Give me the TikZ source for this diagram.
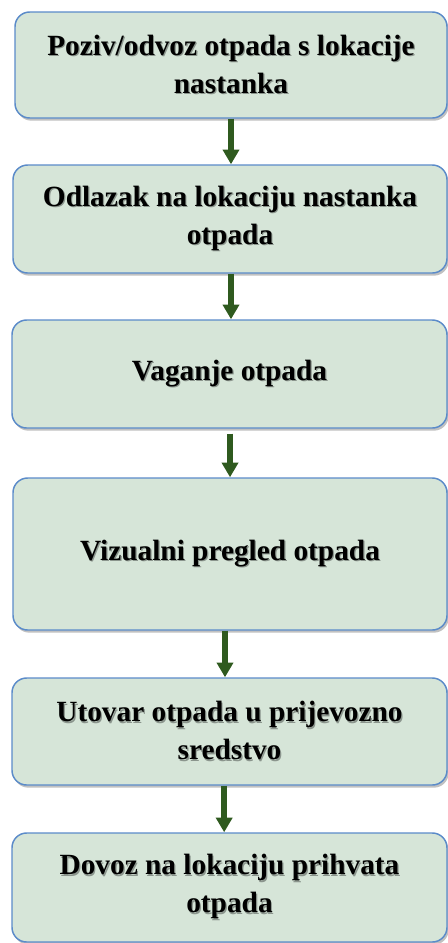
\documentclass[tikz,border=0pt]{standalone}
\usepackage{fontspec}
\setmainfont{Liberation Serif}
\usetikzlibrary{arrows.meta,shadows}
\definecolor{boxfill}{HTML}{D6E5D8}
\definecolor{boxline}{HTML}{5B8BC9}
\definecolor{arrowcol}{HTML}{2F5A1F}
\newcommand{\shline}[1]{\leavevmode\rlap{\raisebox{-0.9pt}{\kern0.9pt\textcolor{boxfill!65!black}{#1}}}#1}
\tikzset{
  stepbox/.style={draw=boxline, line width=1.1pt, fill=boxfill, rounded corners=11pt,
    align=center, inner sep=0pt,
    font=\fontsize{22}{28.5}\selectfont\bfseries,
    drop shadow={shadow xshift=1.2pt, shadow yshift=-2pt, opacity=0.35, fill=black!70}},
  flowarrow/.style={draw=arrowcol, line width=4.5pt, -{Triangle[width=12pt,length=11pt]}}
}
\begin{document}
\begin{tikzpicture}[x=0.75pt,y=-0.75pt]
\useasboundingbox (0,0) rectangle (448,943);
\node[stepbox, minimum width=324pt, minimum height=79.5pt] (b1) at (231,65)
  {\shline{Poziv/odvoz otpada s lokacije}\\\shline{nastanka}};
\node[stepbox, minimum width=325.5pt, minimum height=81pt] (b2) at (230,219)
  {\shline{Odlazak na lokaciju nastanka}\\\shline{otpada}};
\node[stepbox, minimum width=326.25pt, minimum height=81pt] (b3) at (229.5,374)
  {\shline{Vaganje otpada}};
\node[stepbox, minimum width=325.5pt, minimum height=114pt] (b4) at (230,554)
  {\shline{Vizualni pregled otpada}};
\node[stepbox, minimum width=326.25pt, minimum height=80.25pt] (b5) at (229.5,731.5)
  {\shline{Utovar otpada u prijevozno}\\\shline{sredstvo}};
\node[stepbox, minimum width=326.25pt, minimum height=81.75pt] (b6) at (229.5,887.5)
  {\shline{Dovoz na lokaciju prihvata}\\\shline{otpada}};
\draw[flowarrow] (b1.south) -- (b1.south |- b2.north);
\draw[flowarrow] ([xshift=0.75pt]b2.south) -- ([xshift=0.75pt]b2.south |- b3.north);
\draw[flowarrow] ([xshift=0.4pt,yshift=-3.75pt]b3.south) -- ([xshift=0.4pt]b3.south |- b4.north);
\draw[flowarrow] ([xshift=-3.75pt]b4.south) -- ([xshift=-3.75pt]b4.south |- b5.north);
\draw[flowarrow] ([xshift=-4pt]b5.south) -- ([xshift=-4pt]b5.south |- b6.north);
\end{tikzpicture}
\end{document}
